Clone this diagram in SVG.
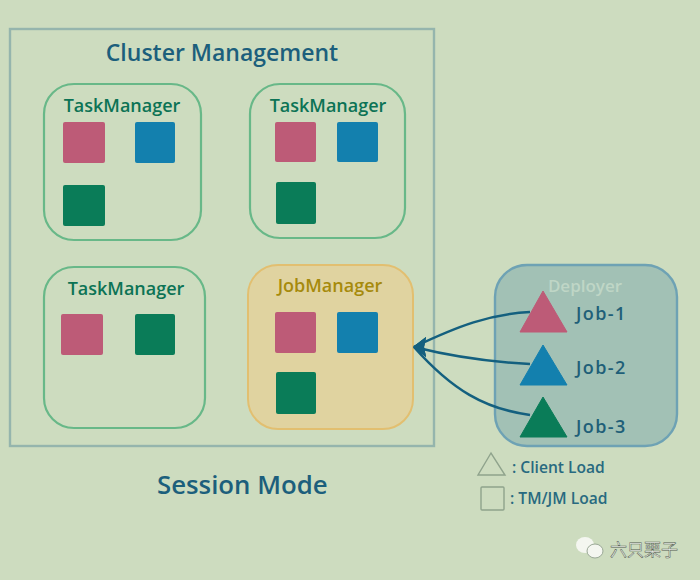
<svg xmlns="http://www.w3.org/2000/svg" width="700" height="580" viewBox="0 0 700 580">
<defs>
<style>
text{font-family:"Open Sans","DejaVu Sans",sans-serif;font-weight:600}
.tm{fill:none;stroke:#68b888;stroke-width:2.2}
.tl{font-size:18px;fill:#0c7355}
.r{fill:#bd5b77}.b{fill:#1380ae}.g{fill:#0a7c58}
.j{font-size:18px;fill:#1f5f78;letter-spacing:1.4px}
.l{font-size:15.6px;fill:#286a80}
.c{fill:none;stroke:#14607f;stroke-width:2.6}
.o{fill:none;stroke:#8fa38c;stroke-width:1.4}
</style>
<marker id="ah" markerUnits="userSpaceOnUse" markerWidth="20" markerHeight="24" refX="1" refY="10" orient="0"><path d="M0 10L13 0L11 10L13 20Z" fill="#14607f"/></marker>
</defs>
<rect width="700" height="580" fill="#cddcbf"/>
<g id="cluster"><rect x="10" y="29" width="424" height="417" fill="none" stroke="#95b5ad" stroke-width="2.4"/>
<text x="222" y="61" text-anchor="middle" font-size="23" fill="#1c5f7c">Cluster Management</text></g>
<g id="tm1"><rect class="tm" x="44" y="84" width="157" height="156" rx="30"/><text class="tl" x="122" y="112" text-anchor="middle">TaskManager</text>
<rect class="r" x="63" y="122" width="42" height="41" rx="2"/><rect class="b" x="135" y="122" width="40" height="41" rx="2"/><rect class="g" x="63" y="185" width="42" height="41" rx="2"/></g>
<g id="tm2"><rect class="tm" x="250" y="84" width="155" height="154" rx="30"/><text class="tl" x="328" y="112" text-anchor="middle">TaskManager</text>
<rect class="r" x="275" y="122" width="41" height="40" rx="2"/><rect class="b" x="337" y="122" width="41" height="40" rx="2"/><rect class="g" x="276" y="182" width="40" height="42" rx="2"/></g>
<g id="tm3"><rect class="tm" x="44" y="267" width="161" height="161" rx="30"/><text class="tl" x="126" y="295" text-anchor="middle">TaskManager</text>
<rect class="r" x="61" y="314" width="42" height="41" rx="2"/><rect class="g" x="135" y="314" width="40" height="41" rx="2"/></g>
<g id="jm"><rect x="248" y="265" width="165" height="164" rx="30" fill="#e0d3a0" stroke="#e2bf70" stroke-width="2"/><text x="330" y="292" text-anchor="middle" font-size="18" fill="#a68a0c">JobManager</text>
<rect class="r" x="275" y="312" width="41" height="41" rx="2"/><rect class="b" x="337" y="312" width="41" height="41" rx="2"/><rect class="g" x="276" y="372" width="40" height="42" rx="2"/></g>
<g id="deployer"><rect x="495" y="265" width="182" height="181" rx="32" fill="#a2c1b5" stroke="#6ea2b4" stroke-width="2.4"/>
<text x="585" y="292" text-anchor="middle" font-size="17" fill="#bfd6c6">Deployer</text></g>
<g id="connectors">
<path class="c" marker-end="url(#ah)" d="M530 312C490 314 458 326 414 347"/>
<path class="c" marker-end="url(#ah)" d="M530 364C490 362 450 356 414 347"/>
<path class="c" marker-end="url(#ah)" d="M530 415C485 409 452 390 414 347"/>
</g>
<g id="job1"><path class="r" d="M543 291L520 332H567Z" stroke="#bd5b77" stroke-linejoin="round"/><text class="j" x="576" y="320">Job-1</text></g>
<g id="job2"><path class="b" d="M543 345L520 385H567Z" stroke="#1380ae" stroke-linejoin="round"/><text class="j" x="576" y="374">Job-2</text></g>
<g id="job3"><path class="g" d="M543 397L520 437H567Z" stroke="#0a7c58" stroke-linejoin="round"/><text class="j" x="576" y="433">Job-3</text></g>
<text x="157" y="494" font-size="25.8" fill="#1c5f7c" id="title">Session Mode</text>
<g id="legend"><path class="o" d="M491 453L478 475H505Z"/><rect class="o" x="481" y="487" width="23" height="23" rx="1"/>
<text class="l" x="512" y="473">: Client Load</text><text class="l" x="510" y="504">: TM/JM Load</text></g>
<g id="watermark"><ellipse cx="585" cy="545" rx="9" ry="8" fill="#f4f6f0"/><ellipse cx="595" cy="551" rx="8" ry="7" fill="#f4f6f0" stroke="#9aa896"/>
<text x="610" y="556" font-size="17" style="font-family:'Noto Sans CJK SC',sans-serif;font-weight:400" fill="#f4f6f0" stroke="#4b5649" stroke-width=".5">六只栗子</text></g>
</svg>
